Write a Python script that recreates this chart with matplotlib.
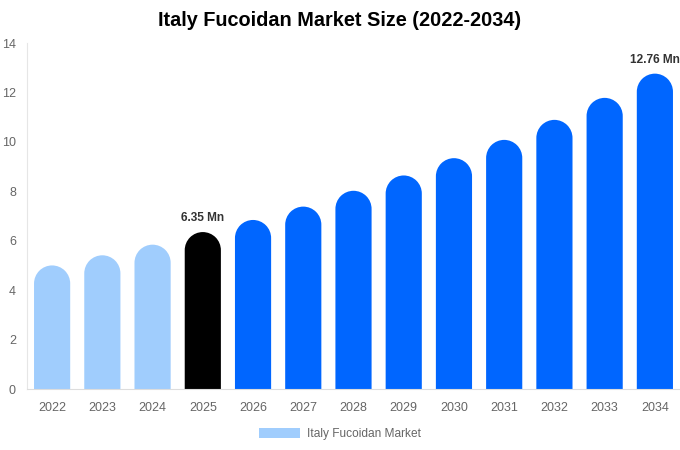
import matplotlib
matplotlib.use("Agg")
import matplotlib.pyplot as plt
import numpy as np
from matplotlib.patches import PathPatch, Patch
from matplotlib.path import Path

years = ["2022", "2023", "2024", "2025", "2026", "2027", "2028",
         "2029", "2030", "2031", "2032", "2033", "2034"]
values = [5.0, 5.41, 5.84, 6.35, 6.84, 7.38, 8.02, 8.64, 9.34, 10.08, 10.89, 11.78, 12.76]
bar_colors = ["#a0cdfd", "#a0cdfd", "#a0cdfd", "#000000"] + ["#0066ff"] * 9
labels = {3: "6.35 Mn", 12: "12.76 Mn"}
series_name = "Italy Fucoidan Market"
title = "Italy Fucoidan Market Size (2022-2034)"

plt.rcParams['font.family'] = ['Liberation Sans', 'DejaVu Sans']

W, H = 680, 450
fig = plt.figure(figsize=(W / 100, H / 100), dpi=100)
left, right, bottom, top = 27, 680, 389, 43
ax = fig.add_axes([left / W, (H - bottom) / H, (right - left) / W, (bottom - top) / H])
ymin, ymax = 0, 14
ax.set_xlim(-0.5, len(years) - 0.5)
ax.set_ylim(ymin, ymax)

bw = 0.72
px_per_x = (right - left) / len(years)
px_per_y = (bottom - top) / (ymax - ymin)
r_px = bw * px_per_x / 2
r_y = r_px / px_per_y

arc = Path.arc(0, 180)
for i, (v, c) in enumerate(zip(values, bar_colors)):
    hx = bw / 2
    av = arc.vertices.copy()
    av[:, 0] = i + hx * av[:, 0]
    av[:, 1] = (v - r_y) + r_y * av[:, 1]
    verts = [(i - hx, 0), (i + hx, 0), (i + hx, v - r_y)] + [tuple(p) for p in av[1:]] + [(i - hx, 0)]
    codes = [Path.MOVETO, Path.LINETO, Path.LINETO] + list(arc.codes[1:]) + [Path.CLOSEPOLY]
    ax.add_patch(PathPatch(Path(verts, codes), facecolor=c, edgecolor='none'))
    if i in labels:
        ax.text(i, v + 0.32, labels[i], ha='center', va='bottom', fontsize=8.6,
                fontweight='bold', color='#333333')

ax.set_xticks(range(len(years)))
ax.set_xticklabels(years)
ax.set_yticks(range(0, 15, 2))
ax.tick_params(axis='both', length=0, labelsize=9, colors='#666666')
ax.tick_params(axis='y', pad=8)
ax.tick_params(axis='x', pad=9.5)
for s in ['top', 'right']:
    ax.spines[s].set_visible(False)
ax.spines['left'].set_color('#e6e6e6')
ax.spines['bottom'].set_color('#dddddd')

fig.text(0.5, 1 - 21 / H, title, ha='center', va='center', fontsize=14.3,
         fontweight='bold', color='#000000')

fig.legend(handles=[Patch(facecolor="#a0cdfd", edgecolor='none', label=series_name)],
           loc='center', bbox_to_anchor=(0.5, 16 / H), frameon=False, fontsize=8.6,
           handlelength=3.4, handleheight=1.0, handletextpad=0.6, labelcolor='#666666')

fig.savefig("out.png", dpi=100)
